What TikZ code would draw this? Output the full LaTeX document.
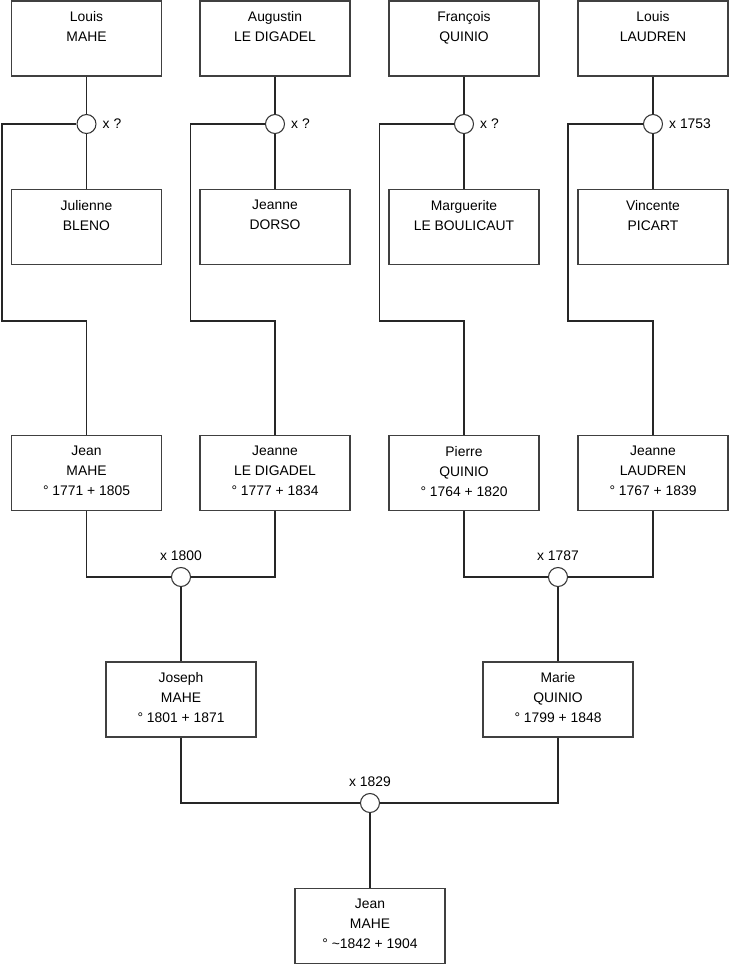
\documentclass[tikz,border=0pt]{standalone}
\usepackage{fontspec}
\setmainfont{Liberation Sans}
\usetikzlibrary{positioning}

\tikzset{
  txt/.style={font=\fontsize{7.9}{11.4}\selectfont},
  person/.style={draw=black!75, line width=0.6pt, minimum width=3cm, minimum height=1.5cm,
    label={[txt, anchor=north, align=center, inner sep=0pt, yshift=-6.2pt]north:#1}},
  wed/.style={circle, draw=black!80, fill=white, line width=0.6pt, minimum size=0.38cm, inner sep=0pt},
  link/.style={draw=black!85, line width=0.6pt}
}

\begin{document}
\begin{tikzpicture}[x=0.02cm, y=-0.02cm]
    \useasboundingbox (0,0) rectangle (740,975);

    % Row 1 : grandparents' fathers
    \node[person={Louis\\MAHE}] (lmahe) at (86.5,38.5) {};
    \node[person={Augustin\\LE DIGADEL}] (adigadel) at (275,38.5) {};
    \node[person={François\\QUINIO}] (fquinio) at (464,38.5) {};
    \node[person={Louis\\LAUDREN}] (llaudren) at (653,38.5) {};

    % Row 2 : their wives
    \node[person={Julienne\\BLENO}] (jbleno) at (86.5,227) {};
    \node[person={Jeanne\\DORSO}] (jdorso) at (275,227) {};
    \node[person={Marguerite\\LE BOULICAUT}] (mbouli) at (464,227) {};
    \node[person={Vincente\\PICART}] (vpicart) at (653,227) {};

    % Marriages of row 1
    \node[wed, label={[txt]right:x ?}] (w1) at (86.5,124) {};
    \node[wed, label={[txt]right:x ?}] (w2) at (275,124) {};
    \node[wed, label={[txt]right:x ?}] (w3) at (464,124) {};
    \node[wed, label={[txt]right:x 1753}] (w4) at (653,124) {};

    % Row 3 : grandparents
    \node[person={Jean\\MAHE\\° 1771 + 1805}] (jmahe) at (86.5,473) {};
    \node[person={Jeanne\\LE DIGADEL\\° 1777 + 1834}] (jdigadel) at (275,473) {};
    \node[person={Pierre\\QUINIO\\° 1764 + 1820}] (pquinio) at (464,473) {};
    \node[person={Jeanne\\LAUDREN\\° 1767 + 1839}] (jlaudren) at (653,473) {};

    \coordinate (b1) at (2,321);
    \coordinate (b2) at (190.5,321);
    \coordinate (b3) at (379.5,321);
    \coordinate (b4) at (568,321);

    \foreach \f/\w/\m/\b/\c in {lmahe/w1/jbleno/b1/jmahe, adigadel/w2/jdorso/b2/jdigadel,
                                fquinio/w3/mbouli/b3/pquinio, llaudren/w4/vpicart/b4/jlaudren}{
        \draw[link] (\f.south) -- (\w.north);
        \draw[link] (\w.south) -- (\m.north);
        \draw[link] (\w.west) -| (\b) -| (\c.north);
    }

    % Marriages of row 3
    \node[wed, label={[txt]above:x 1800}] (w5) at (181,577) {};
    \node[wed, label={[txt]above:x 1787}] (w6) at (558,577) {};
    \draw[link] (jmahe.south) |- (w5.west);
    \draw[link] (jdigadel.south) |- (w5.east);
    \draw[link] (pquinio.south) |- (w6.west);
    \draw[link] (jlaudren.south) |- (w6.east);

    % Row 4 : parents
    \node[person={Joseph\\MAHE\\° 1801 + 1871}] (joseph) at (181,699.5) {};
    \node[person={Marie\\QUINIO\\° 1799 + 1848}] (marie) at (558,699.5) {};
    \draw[link] (w5.south) -- (joseph.north);
    \draw[link] (w6.south) -- (marie.north);

    % Last marriage and child
    \node[wed, label={[txt]above:x 1829}] (w7) at (370,803) {};
    \draw[link] (joseph.south) |- (w7.west);
    \draw[link] (marie.south) |- (w7.east);

    \node[person={Jean\\MAHE\\° \textasciitilde 1842 + 1904}] (jean) at (370,926) {};
    \draw[link] (w7.south) -- (jean.north);
\end{tikzpicture}
\end{document}
